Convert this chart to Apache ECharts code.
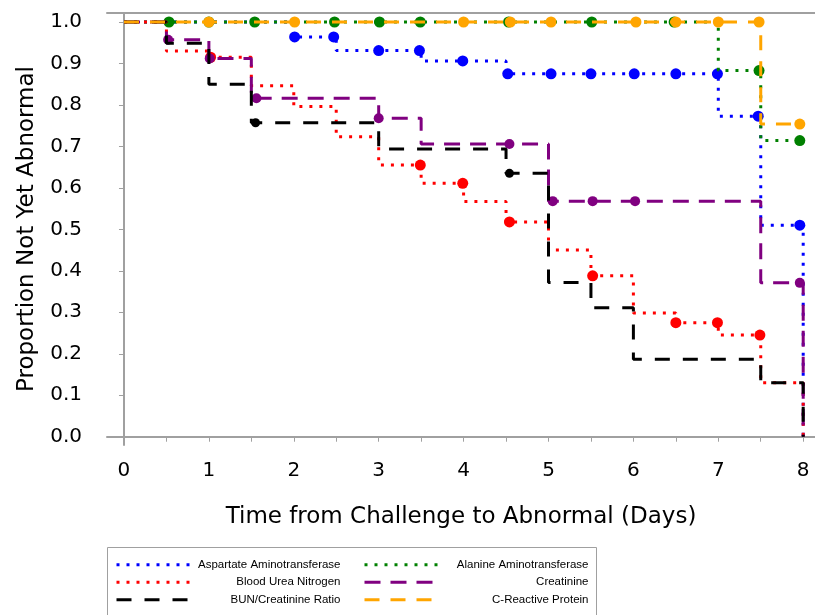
<!DOCTYPE html>
<html>
<head>
<meta charset="utf-8">
<script src="https://cdn.jsdelivr.net/npm/echarts@6/dist/echarts.min.js"></script>
<style>
html,body{margin:0;padding:0;background:#fff;}
#chart{width:815px;height:615px;}
</style>
</head>
<body>
<div id="chart"></div>
<script>
// ---- tick labels ----
const xTickLabels = [0, 1, 2, 3, 4, 5, 6, 7, 8];
const xTickMarks = [0, 0.5, 1, 1.5, 2, 2.5, 3, 3.5, 4, 4.5, 5, 5.5, 6, 6.5, 7, 7.5, 8];
const yTicks = [0, 0.1, 0.2, 0.3, 0.4, 0.5, 0.6, 0.7, 0.8, 0.9, 1.0];

// ---- Aspartate Aminotransferase ----
const astTime = [0, 2, 2.5, 3.5, 4.5, 7, 7.5, 8];
const astSurv = [1, 0.964, 0.931, 0.906, 0.875, 0.773, 0.510, 0];
const astCensTime = [2.01, 2.47, 3.0, 3.48, 3.99, 4.52, 5.03, 5.5, 6.01, 6.5, 6.99, 7.47, 7.96];
const astCensSurv = [0.964, 0.964, 0.931, 0.931, 0.906, 0.875, 0.875, 0.875, 0.875, 0.875, 0.875, 0.773, 0.510];

// ---- Alanine Aminotransferase ----
const altTime = [0, 7, 7.5, 7.96];
const altSurv = [1, 0.883, 0.714, 0.714];
const altCensTime = [0.53, 1.0, 1.54, 2.48, 3.01, 3.49, 4.53, 5.51, 6.48, 7.48, 7.96];
const altCensSurv = [1, 1, 1, 1, 1, 1, 1, 1, 1, 0.883, 0.714];

// ---- Blood Urea Nitrogen ----
const bunTime = [0, 0.5, 1, 1.5, 2, 2.5, 3, 3.5, 4, 4.5, 5, 5.5, 6, 6.5, 7, 7.5, 8];
const bunSurv = [1, 0.930, 0.915, 0.846, 0.796, 0.723, 0.655, 0.611, 0.567, 0.518, 0.450, 0.388, 0.298, 0.275, 0.245, 0.130, 0];
const bunCensTime = [1.02, 3.49, 3.99, 4.54, 5.52, 6.5, 6.99, 7.49];
const bunCensSurv = [0.915, 0.655, 0.611, 0.518, 0.388, 0.275, 0.275, 0.245];

// ---- Creatinine ----
const creTime = [0, 0.5, 1, 1.5, 3, 3.5, 5, 7.5, 8];
const creSurv = [1, 0.957, 0.912, 0.816, 0.768, 0.706, 0.568, 0.371, 0];
const creCensTime = [0.52, 1.01, 1.56, 3.0, 4.54, 5.05, 5.52, 6.02, 7.96];
const creCensSurv = [0.957, 0.912, 0.816, 0.768, 0.706, 0.568, 0.568, 0.568, 0.371];

// ---- BUN/Creatinine Ratio ----
const ratTime = [0, 0.5, 1, 1.5, 3, 4.5, 5, 5.5, 6, 7.5, 8];
const ratSurv = [1, 0.949, 0.850, 0.757, 0.694, 0.635, 0.372, 0.311, 0.187, 0.130, 0];
const ratCensTime = [1.55, 4.54];
const ratCensSurv = [0.757, 0.635];

// ---- C-Reactive Protein ----
const crpTime = [0, 7.5, 7.96];
const crpSurv = [1, 0.754, 0.754];
const crpCensTime = [1.0, 2.01, 4.0, 4.55, 5.03, 6.03, 6.5, 7.0, 7.48, 7.96];
const crpCensSurv = [1, 1, 1, 1, 1, 1, 1, 1, 1, 0.754];

const names = ['Aspartate Aminotransferase', 'Alanine Aminotransferase', 'Blood Urea Nitrogen',
  'Creatinine', 'BUN/Creatinine Ratio', 'C-Reactive Protein'];

const zip = (a, b) => a.map((v, i) => [v, b[i]]);
const DOT = [3, 7];
const groups = [
  {name: names[0], t: astTime, s: astSurv, ct: astCensTime, cs: astCensSurv, color: '#0000ff', dash: DOT, size: 11},
  {name: names[1], t: altTime, s: altSurv, ct: altCensTime, cs: altCensSurv, color: '#008000', dash: DOT, size: 11},
  {name: names[2], t: bunTime, s: bunSurv, ct: bunCensTime, cs: bunCensSurv, color: '#ff0000', dash: DOT, size: 11},
  {name: names[3], t: creTime, s: creSurv, ct: creCensTime, cs: creCensSurv, color: '#800080', dash: [16, 10], size: 10},
  {name: names[4], t: ratTime, s: ratSurv, ct: ratCensTime, cs: ratCensSurv, color: '#000000', dash: [15, 13], size: 9},
  {name: names[5], t: crpTime, s: crpSurv, ct: crpCensTime, cs: crpCensSurv, color: '#ffa500', dash: [15, 11], size: 11}
];

const series = [];
groups.forEach((g, i) => {
  series.push({
    name: g.name, type: 'line', step: 'end', symbol: 'none',
    data: zip(g.t, g.s), color: g.color,
    lineStyle: {color: g.color, width: 3, type: g.dash, cap: 'butt'},
    z: 2 + i * 2, silent: true, animation: false
  });
  series.push({
    name: 'cens' + i, type: 'scatter', symbol: 'circle', symbolSize: g.size,
    data: zip(g.ct, g.cs), itemStyle: {color: g.color, opacity: 1},
    z: 3 + i * 2, silent: true, animation: false
  });
});

const axisGray = '#a0a0a0';
const FONT = 'DejaVu Sans';
const legendCommon = {
  orient: 'vertical', itemWidth: 73, itemHeight: 14, itemGap: 0,
  top: 556, padding: 0, selectedMode: false,
  lineStyle: {width: 3, type: 'inherit'},
  itemStyle: {opacity: 0, borderWidth: 0},
  formatter: n => '{t|' + n + '}',
  textStyle: {rich: {t: {width: 146, height: 17.5, lineHeight: 17.5, align: 'right', fontSize: 11.5, fontFamily: 'Liberation Sans', color: '#000'}}}
};

const chart = echarts.init(document.getElementById('chart'), null, {renderer: 'canvas'});
chart.setOption({
  animation: false,
  backgroundColor: '#ffffff',
  grid: {left: 107, right: 0, top: 13, bottom: 170, outerBoundsMode: 'none'},
  xAxis: [{
    type: 'value', min: -0.2, max: 8.139,
    name: 'Time from Challenge to Abnormal (Days)', nameLocation: 'middle', nameGap: 61,
    nameTextStyle: {fontSize: 23, fontFamily: FONT, color: '#000'},
    axisLine: {show: true, lineStyle: {color: axisGray, width: 2}},
    axisTick: {show: true, length: 5, lineStyle: {color: axisGray, width: 1}, customValues: xTickMarks},
    axisLabel: {fontSize: 20, fontFamily: FONT, color: '#000', margin: 16, customValues: xTickLabels},
    splitLine: {show: false}
  }, {
    type: 'value', position: 'top', min: -0.2, max: 8.139,
    axisLine: {show: true, lineStyle: {color: axisGray, width: 2}},
    axisTick: {show: false}, axisLabel: {show: false}, splitLine: {show: false}
  }],
  yAxis: {
    type: 'value', min: -0.02, max: 1.0217,
    name: 'Proportion Not Yet Abnormal', nameLocation: 'middle', nameGap: 68,
    nameTextStyle: {fontSize: 23, fontFamily: FONT, color: '#000'},
    axisLine: {show: true, lineStyle: {color: axisGray, width: 2}},
    axisTick: {show: true, length: 5, lineStyle: {color: axisGray, width: 1}, customValues: yTicks},
    axisLabel: {fontSize: 20, fontFamily: FONT, color: '#000', margin: 25, customValues: yTicks,
      formatter: v => Number(v).toFixed(1)},
    splitLine: {show: false}
  },
  legend: [
    Object.assign({}, legendCommon, {left: 115, data: [names[0], names[2], names[4]]}),
    Object.assign({}, legendCommon, {left: 363, data: [names[1], names[3], names[5]]})
  ],
  graphic: [{
    type: 'rect', shape: {x: 107.5, y: 547.5, width: 489, height: 80},
    style: {fill: 'none', stroke: axisGray, lineWidth: 1}, silent: true, z: 0
  }],
  series: series
});
</script>
</body>
</html>
